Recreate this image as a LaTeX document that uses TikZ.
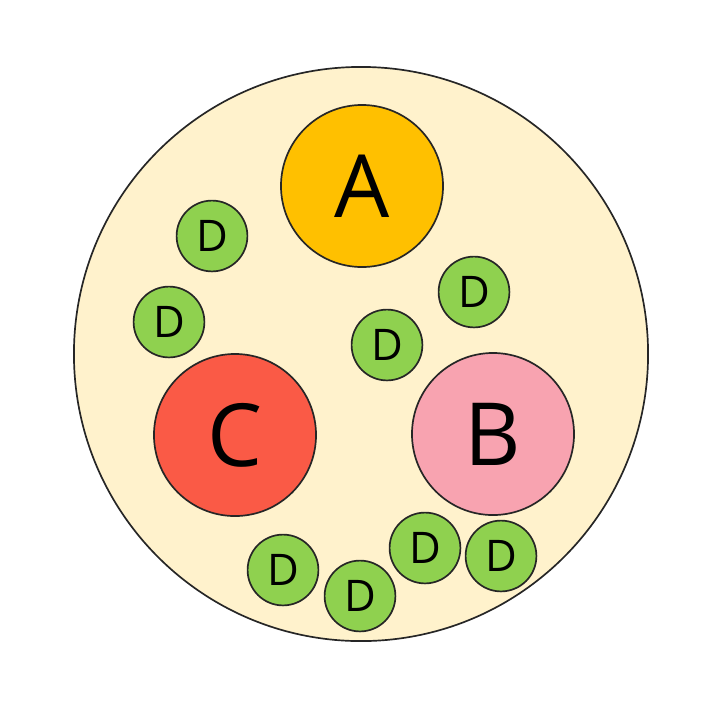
\documentclass[tikz,border=0pt]{standalone}
\usepackage{fontspec}
\setmainfont{Open Sans}
\usepackage{tikz}
\usetikzlibrary{shapes}

\definecolor{cellbg}{HTML}{FFF2CC}
\definecolor{colA}{HTML}{FFC000}
\definecolor{colB}{HTML}{F8A3B0}
\definecolor{colC}{HTML}{FA5A46}
\definecolor{colD}{HTML}{8FD14F}

\begin{document}
\begin{tikzpicture}[x=0.025cm, y=-0.025cm,
	bigball/.style={draw=black!85, line width=1.2pt, shape=circle, minimum size=4.05cm, inner sep=0pt, font=\fontsize{62}{62}\selectfont},
	smallball/.style={draw=black!85, line width=1.2pt, fill=colD, shape=circle, minimum size=1.77cm, inner sep=0pt, font=\fontsize{31}{31}\selectfont}]
	\useasboundingbox (0, 0) rectangle (720, 712);
	\node [draw=black!85, line width=1.2pt, fill=cellbg, shape=circle, minimum size=14.35cm] (cell) at (361, 354) {};
	\node [bigball, fill=colA] (A) at (362, 186) {A};
	\node [bigball, fill=colC] (C) at (235, 435) {C};
	\node [bigball, fill=colB] (B) at (493, 434) {B};
	\node [smallball] (d1) at (212, 236) {D};
	\node [smallball] (d2) at (169, 322) {D};
	\node [smallball] (d3) at (474, 292) {D};
	\node [smallball] (d4) at (387, 345) {D};
	\node [smallball] (d5) at (283, 570) {D};
	\node [smallball] (d6) at (360, 596) {D};
	\node [smallball] (d7) at (425, 548) {D};
	\node [smallball] (d8) at (501, 556) {D};
\end{tikzpicture}
\end{document}
